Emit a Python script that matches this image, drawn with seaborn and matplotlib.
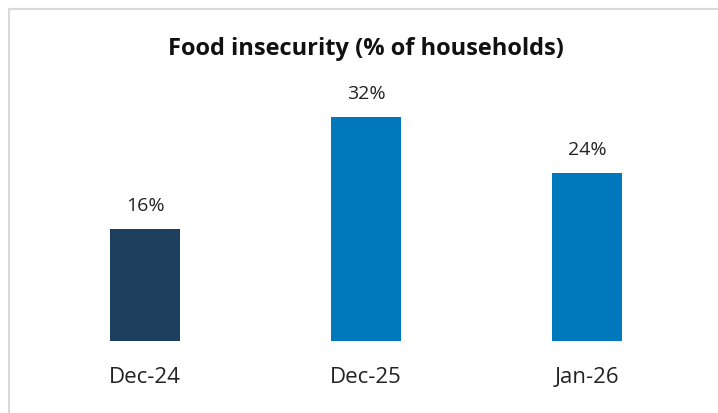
import matplotlib
matplotlib.use("Agg")
import matplotlib.pyplot as plt
import seaborn as sns
import pandas as pd
from matplotlib.lines import Line2D

# data
periods = ["Dec-24", "Dec-25", "Jan-26"]
food_insecurity = [16, 32, 24]
bar_colors = ["#1c3f5e", "#0078bc", "#0078bc"]

df = pd.DataFrame({"period": periods, "value": food_insecurity})

sns.set_style("white")
plt.rcParams["font.family"] = ["Open Sans", "DejaVu Sans"]

fig = plt.figure(figsize=(7.18, 4.13), dpi=100)
ax = fig.add_axes([34.5 / 718, 72 / 413, 663 / 718, 280 / 413])

sns.barplot(data=df, x="period", y="value", hue="period", palette=bar_colors,
            width=0.317, legend=False, ax=ax, saturation=1, linewidth=0)

for i, v in enumerate(food_insecurity):
    ax.annotate(f"{v}%", (i, v), xytext=(0, 10), textcoords="offset points",
                ha="center", va="bottom", fontsize=14, color="#222222")

ax.set_xlim(-0.5, 2.5)
ax.set_ylim(0, 40)
ax.set_xlabel("")
ax.set_ylabel("")
ax.set_yticks([])
ax.tick_params(axis="x", length=0, pad=19, labelsize=16, labelcolor="#222222")
sns.despine(ax=ax, left=True, bottom=True)

fig.text(366 / 718, 1 - 49 / 413, "Food insecurity (% of households)",
         ha="center", va="center", fontsize=17, fontweight="bold", color="#111111")

# light frame on top and left edges
fig.add_artist(Line2D([8.5 / 718, 1], [1 - 8.5 / 413, 1 - 8.5 / 413],
                      color="#d9d9d9", lw=1.5, transform=fig.transFigure))
fig.add_artist(Line2D([8.5 / 718, 8.5 / 718], [0, 1 - 8.5 / 413],
                      color="#d9d9d9", lw=1.5, transform=fig.transFigure))

fig.savefig("out.png", dpi=100)
